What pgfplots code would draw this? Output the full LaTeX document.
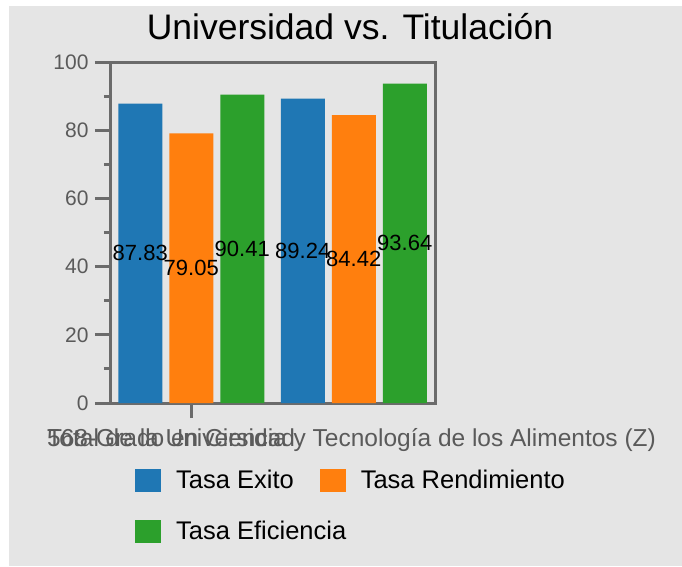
\documentclass[border=0pt]{standalone}
\usepackage{fontspec}
\setmainfont{Liberation Sans}
\usepackage{pgfplots}
\pgfplotsset{compat=1.18}
\definecolor{bgc}{HTML}{E5E5E5}
\definecolor{axc}{HTML}{6B6B6B}
\definecolor{labc}{HTML}{5A5A5A}
\definecolor{cexito}{HTML}{1F77B4}
\definecolor{crend}{HTML}{FF7F0E}
\definecolor{cefic}{HTML}{2CA02C}

\begin{document}
\begin{tikzpicture}[x=1pt,y=1pt]
  \path[use as bounding box] (0,0) rectangle (682,566);
  \fill[bgc] (9,0) rectangle (682,560);
  \node[anchor=base, inner sep=0pt, font=\fontsize{35.5}{40}\selectfont] at (350,526) {Universidad vs. Titulación};
  \begin{axis}[
    at={(110pt,163pt)}, anchor=south west,
    scale only axis, width=325pt, height=341pt,
    ybar=7pt, bar width=44pt,
    xmin=-0.5, xmax=1.5, ymin=0, ymax=100,
    xtick={0}, xticklabels={},
    ytick={0,20,...,100}, minor y tick num=1,
    tick align=outside, xtick pos=bottom, ytick pos=left,
    major tick length=15pt, minor tick length=6pt,
    axis line style={draw=axc, line width=3pt},
    tick style={draw=axc, line width=3pt},
    yticklabel style={font=\fontsize{21}{25}\selectfont, text=labc, xshift=-3pt},
    /pgf/number format/assume math mode=true,
    clip=false,
    visualization depends on=rawy\as\rawy,
    nodes near coords,
    nodes near coords style={anchor=center, inner sep=0pt, font=\fontsize{22}{26}\selectfont, text=black,
      shift={(axis direction cs:0,-\rawy/2)}},
    legend columns=2,
    legend cell align=left,
    legend style={at={(0.0769,-0.1905)}, anchor=north west, draw=none, fill=none, inner sep=0pt,
      nodes={inner sep=0pt, text height=20pt, text depth=5pt, font=\fontsize{25.5}{30}\selectfont, text=black},
      row sep=26pt,
      /tikz/every odd column/.append style={column sep=15pt},
      /tikz/every even column/.append style={column sep=-26.5pt}},
    legend image code/.code={\fill[#1] (0pt,-11pt) rectangle (26pt,12pt);},
  ]
    \addplot[fill=cexito, draw=none] coordinates {(0,87.83) (1,89.24)};
    \addplot[fill=crend, draw=none] coordinates {(0,79.05) (1,84.42)};
    \addplot[fill=cefic, draw=none] coordinates {(0,90.41) (1,93.64)};
    \legend{Tasa Exito, Tasa Rendimiento, Tasa Eficiencia}
  \end{axis}
  \node[anchor=base west, inner sep=0pt, font=\fontsize{24.5}{28}\selectfont, text=labc] at (47,120) {568-Grado en Ciencia y Tecnología de los Alimentos (Z)};
  \node[anchor=base west, inner sep=0pt, font=\fontsize{24.5}{28}\selectfont, text=labc] at (47,120) {Total de la Universidad};
\end{tikzpicture}
\end{document}
